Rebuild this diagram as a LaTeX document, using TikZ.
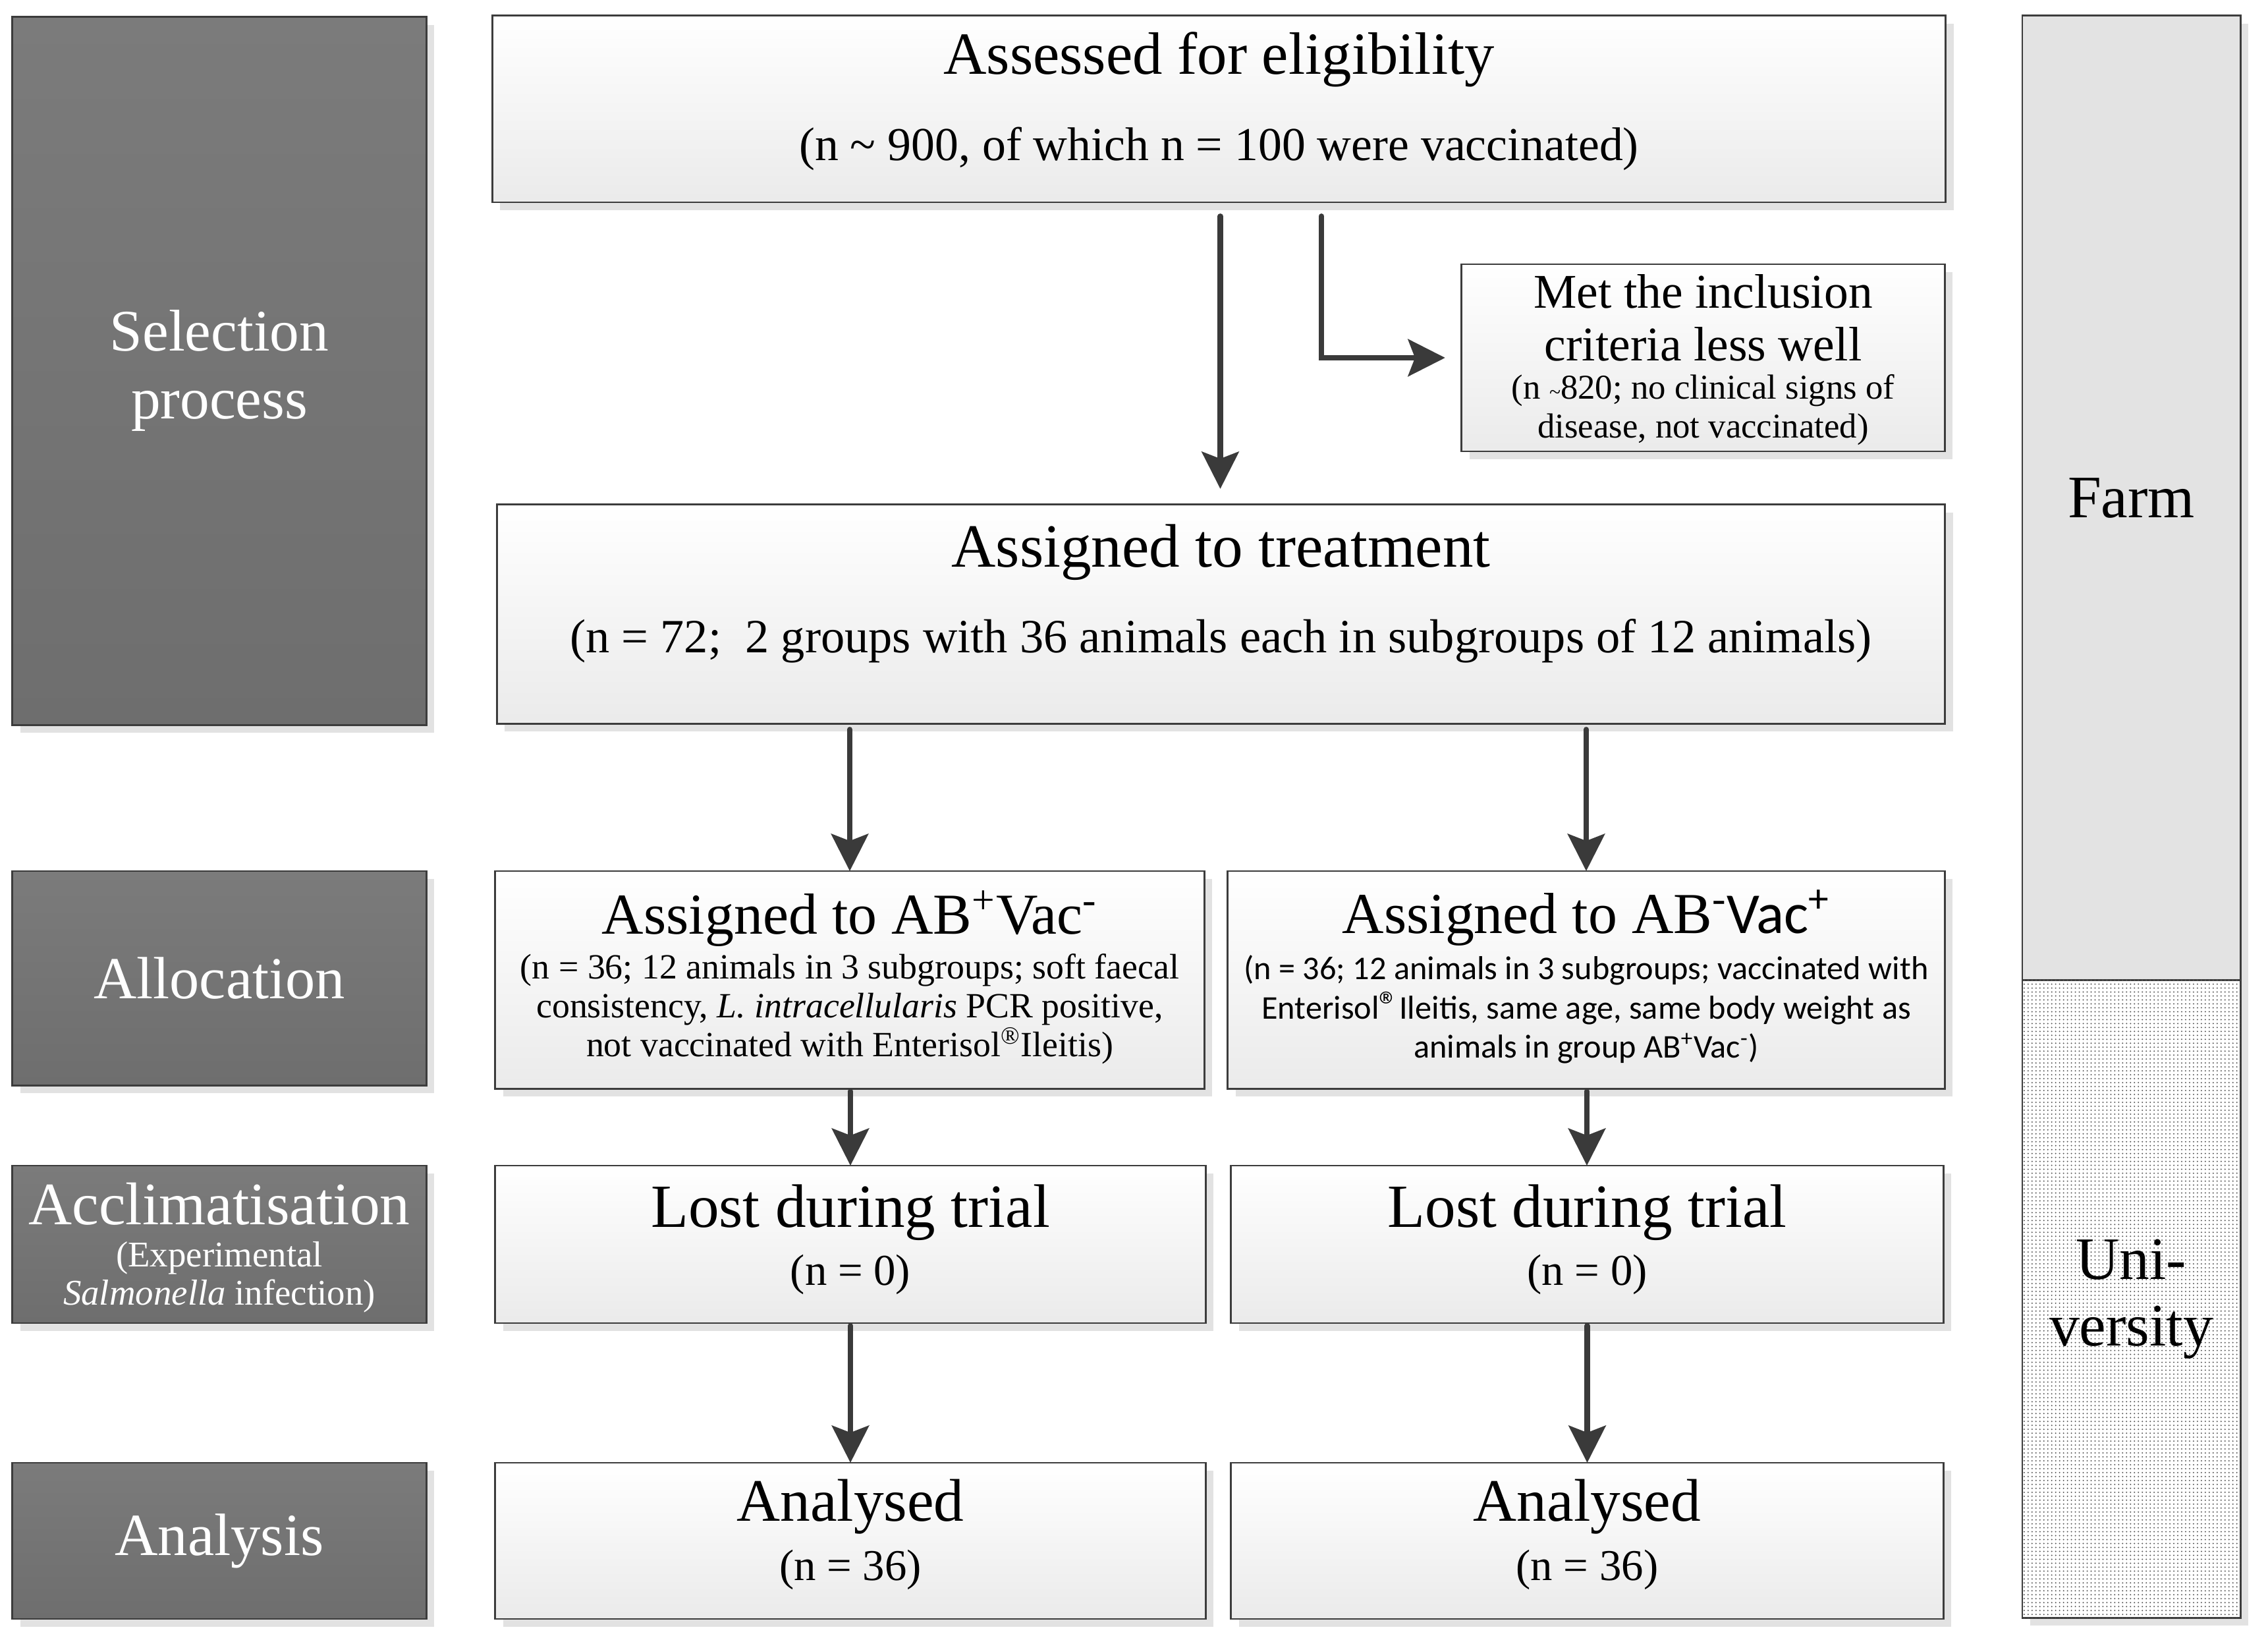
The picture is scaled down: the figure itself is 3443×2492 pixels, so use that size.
\documentclass[tikz,border=0pt]{standalone}
\usepackage{fontspec}
\setmainfont{Liberation Serif}
\newfontfamily\carl{Carlito}
\usetikzlibrary{arrows.meta,shadows,patterns.meta,calc}
\definecolor{arrowcol}{HTML}{3A3A3A}
\definecolor{boxline}{HTML}{3C3C3C}
\definecolor{shadowcol}{HTML}{E2E2E2}
\definecolor{labtop}{HTML}{7B7B7B}
\definecolor{labbot}{HTML}{6E6E6E}
\definecolor{farmcol}{HTML}{E3E3E3}
\newcommand\fs[1]{\fontsize{#1}{#1}\selectfont}
\newcommand\fsb[2]{\fontsize{#1}{#2}\selectfont}
\begin{document}
\begin{tikzpicture}[x=0.01cm, y=-0.01cm,
  shd/.style={general shadow={fill=shadowcol, shadow xshift=3.4pt, shadow yshift=-3.4pt}},
  box/.style={draw=boxline, line width=0.8pt, top color=white, bottom color=black!8, shd, inner sep=0pt, outer sep=0pt},
  lab/.style={draw=boxline, line width=0.8pt, top color=labtop, bottom color=labbot, text=white, shd, inner sep=0pt, outer sep=0pt, align=center},
  txt/.style={inner sep=0pt, align=center},
  arr/.style={draw=arrowcol, line width=2.3pt, line cap=round, -{Stealth[length=16pt,width=16pt,inset=3pt]}}]
\useasboundingbox (0,0) rectangle (3443,2492);

% left stage labels
\node[lab, minimum width=6.28cm, minimum height=10.74cm, font=\fsb{25.4}{29.3}] (sel) at (333,563) {Selection\\process};
\node[lab, minimum width=6.28cm, minimum height=3.25cm, font=\fs{25.7}] (alloc) at (333,1484.5) {Allocation};
\node[lab, minimum width=6.28cm, minimum height=2.39cm] (accl) at (333,1888.5) {};
\node[txt, text=white, font=\fs{26}] (accl-t) at (333,1827) {Acclimatisation};
\node[txt, text=white, font=\fsb{15.6}{16.4}] (accl-s) at (333,1938) {(Experimental\\\textit{Salmonella} infection)};
\node[lab, minimum width=6.28cm, minimum height=2.37cm, font=\fs{25.8}] (analysis) at (333,2338.5) {Analysis};

% right location bar
\node[draw=boxline, line width=0.8pt, fill=farmcol, shd, inner sep=0pt, minimum width=3.31cm, minimum height=14.64cm, font=\fs{26}] (farm) at (3235.5,756) {Farm};
\node[draw=boxline, line width=0.8pt, fill=white, postaction={pattern={Dots[radius=0.32pt,distance=1.7pt]}, pattern color=black!65}, shd, inner sep=0pt, minimum width=3.31cm, minimum height=9.67cm, align=center, font=\fsb{26}{28.7}] (univ) at (3235.5,1971.5) {Uni-\\versity};

% flow boxes
\node[box, minimum width=22.05cm, minimum height=2.83cm] (assess) at (1850.5,165.5) {};
\node[txt, font=\fs{25.8}] (assess-t) at (1850.5,90) {Assessed for eligibility};
\node[txt, font=\fs{20.4}] (assess-s) at (1850.5,226) {(n \textasciitilde{} 900, of which n = 100 were vaccinated)};

\node[box, minimum width=7.33cm, minimum height=2.84cm] (met) at (2585.5,543) {};
\node[txt, font=\fsb{20.9}{22.8}] (met-t) at (2585.5,482) {Met the inclusion\\criteria less well};
\node[txt, font=\fsb{15}{17}] (met-s) at (2585.5,622) {(n {\fs{9}\textasciitilde}820; no clinical signs of\\disease, not vaccinated)};

\node[box, minimum width=21.97cm, minimum height=3.32cm] (treat) at (1853.5,932) {};
\node[txt, font=\fs{26.5}] (treat-t) at (1853.5,838) {Assigned to treatment};
\node[txt, font=\fs{20.6}] (treat-s) at (1853.5,973) {(n = 72;\ \ 2 groups with 36 animals each in subgroups of 12 animals)};

\node[box, minimum width=10.76cm, minimum height=3.30cm] (abp) at (1290,1487) {};
\node[txt, font=\fs{25}] (abp-t) at (1290,1394) {Assigned to AB\textsuperscript{+}Vac\textsuperscript{-}};
\node[txt, font=\fsb{15.3}{16.8}] (abp-s) at (1290,1531) {(n = 36; 12 animals in 3 subgroups; soft faecal\\consistency, \textit{L. intracellularis} PCR positive,\\not vaccinated with Enterisol\textsuperscript{\textregistered}Ileitis)};

\node[box, minimum width=10.88cm, minimum height=3.30cm] (abm) at (2408,1487) {};
\node[txt, font=\fs{25}] (abm-t) at (2408,1393) {Assigned to AB\textsuperscript{-}{\carl Vac\textsuperscript{+}}};
\node[txt, font=\carl\fsb{14.3}{17}] (abm-s) at (2408,1532) {(n = 36; 12 animals in 3 subgroups; vaccinated with\\Enterisol{\fs{17}\textregistered}Ileitis, same age, same body weight as\\animals in group AB\textsuperscript{+}Vac\textsuperscript{-})};

\node[box, minimum width=10.78cm, minimum height=2.39cm] (lostl) at (1291,1888.5) {};
\node[txt, font=\fs{26.5}] (lostl-t) at (1291,1840) {Lost during trial};
\node[txt, font=\fs{19}] (lostl-s) at (1291,1934) {(n = 0)};

\node[box, minimum width=10.81cm, minimum height=2.39cm] (lostr) at (2409.5,1888.5) {};
\node[txt, font=\fs{26.5}] (lostr-t) at (2409.5,1840) {Lost during trial};
\node[txt, font=\fs{19}] (lostr-s) at (2409.5,1934) {(n = 0)};

\node[box, minimum width=10.78cm, minimum height=2.37cm] (anl) at (1291,2338.5) {};
\node[txt, font=\fs{26}] (anl-t) at (1291,2287) {Analysed};
\node[txt, font=\fs{19}] (anl-s) at (1291,2382) {(n = 36)};

\node[box, minimum width=10.81cm, minimum height=2.37cm] (anr) at (2409.5,2338.5) {};
\node[txt, font=\fs{26}] (anr-t) at (2409.5,2287) {Analysed};
\node[txt, font=\fs{19}] (anr-s) at (2409.5,2382) {(n = 36)};

% connectors
\coordinate (m1) at ($(assess.south)+(2,21)$);
\coordinate (m2) at ($(treat.north)+(0,-24)$);
\draw[arr] (m1) -- (m1 |- m2);
\coordinate (b1) at ($(assess.south)+(155.5,21)$);
\coordinate (b2) at ($(met.west)+(-25,0)$);
\draw[arr] (b1) |- (b2);

\coordinate (t1) at (abp.north |- treat.south);
\coordinate (t2) at (abm.north |- treat.south);
\draw[arr] ($(t1)+(0,9)$) -- (abp.north);
\draw[arr] ($(t2)+(0,9)$) -- (abm.north);

\draw[arr] ($(abp.south)+(1,4)$) -- ($(abp.south |- lostl.north)+(1,0)$);
\draw[arr] ($(abm.south)+(1,4)$) -- ($(abm.south |- lostr.north)+(1,0)$);
\draw[arr] ($(lostl.south)+(0,4)$) -- (anl.north);
\draw[arr] ($(lostr.south)+(0,4)$) -- (anr.north);
\end{tikzpicture}
\end{document}
